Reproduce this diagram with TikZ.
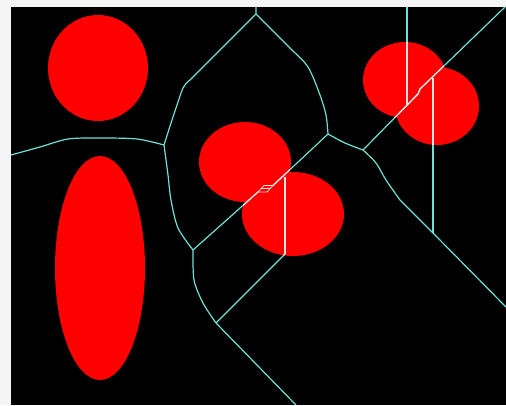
\documentclass[tikz,border=0pt]{standalone}
\begin{document}
\begin{tikzpicture}[x=1pt,y=-1pt]
\definecolor{edgecyan}{RGB}{110,225,215}
\definecolor{blobred}{RGB}{255,0,0}
\definecolor{inline}{RGB}{255,225,225}
\tikzset{
  vline/.style={draw=edgecyan,line width=1.2pt,line join=round},
  blob/.style={fill=blobred,draw=none}
}
\useasboundingbox (0,0) rectangle (506,405);
\fill[white!92!gray] (0,0) rectangle (506,405);
\fill[black] (11,7) rectangle (506,405);
% red shapes
\def\blobs{
  (98,68) ellipse [x radius=50,y radius=53]
  (100,268) ellipse [x radius=45,y radius=112]
  (245,162) ellipse [x radius=46,y radius=40]
  (293,214) ellipse [x radius=51,y radius=42]
  (405,80) ellipse [x radius=42,y radius=38]
  (437,106) ellipse [x radius=42,y radius=39]
}
\fill[blob] \blobs;
% junction coordinates
\coordinate (jA) at (164,145);
\coordinate (jB) at (193,250);
\coordinate (jC) at (216,323);
\coordinate (jD) at (328,134);
\coordinate (jE) at (363,150);
\coordinate (jF) at (285,254);
\coordinate (jG) at (256,14);
\coordinate (mk1) at (258,192);
\coordinate (mk2) at (273,185.5);
\def\edges{
  \draw[vline] plot[smooth,tension=0.5] coordinates {(11,155) (40,147) (68,139) (100,138) (137,139) (164,145)};
  \draw[vline] plot[smooth,tension=0.4] coordinates {(164,145) (173,117) (183,88) (190,80)} -- (jG) -- (256,7);
  \draw[vline] plot[smooth,tension=0.5] coordinates {(256,14) (290,48) (308,67) (320,95) (326,115) (328,134)};
  \draw[vline] plot[smooth,tension=0.5] coordinates {(164,145) (168,175) (171,200) (178,228) (193,250)};
  \draw[vline] (jB) -- (mk1);
  \draw[vline] (mk2) -- (jD);
  \draw[vline] plot[smooth,tension=0.5] coordinates {(193,250) (194,280) (203,303) (216,323)};
  \draw[vline] (jF) -- (jC);
  \draw[vline] (jC) -- (296,405);
  \draw[vline] (285,177) -- (jF);
  \draw[vline] plot[smooth,tension=0.5] coordinates {(328,134) (345,143) (363,150)};
  \draw[vline] (jE) -- (418,94) -- (420,89) -- (505,7);
  \draw[vline] plot[smooth,tension=0.5] coordinates {(363,150) (376,163) (386,180) (400,200)} -- (433,233) -- (506,307);
  \draw[vline] (407,7) -- (407,106);
  \draw[vline] (433,78) -- (433,233);
}
\edges
% lines seen through the red shapes
\begin{scope}
  \clip \blobs;
  \tikzset{vline/.style={draw=inline,line width=1.2pt,line join=round}}
  \edges
\end{scope}
% small slanted mark on the edge
\draw[inline,line width=0.8pt] (mk1) -- (267,192) -- (mk2) -- (264,185.5) -- cycle;
\draw[inline,line width=0.8pt] (261,188.75) -- (270,188.75);
\end{tikzpicture}
\end{document}
